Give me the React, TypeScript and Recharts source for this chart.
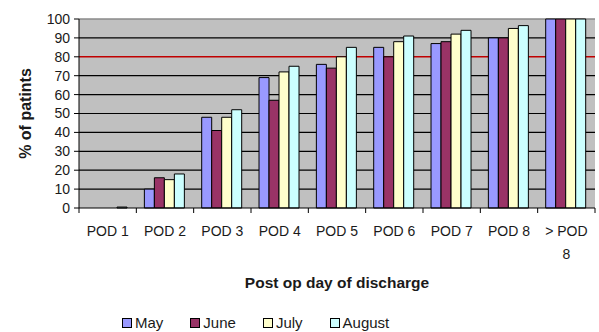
import React from 'react';
import { BarChart, Bar, XAxis, YAxis, CartesianGrid, Legend } from 'recharts';

// Share of patients discharged by each post-operative day, per month
const CATEGORIES = ['POD 1', 'POD 2', 'POD 3', 'POD 4', 'POD 5', 'POD 6', 'POD 7', 'POD 8', '> POD 8'];
const MAY = [0, 10, 48, 69, 76, 85, 87, 90, 100];
const JUNE = [0, 16, 41, 57, 74, 80, 88, 90, 100];
const JULY = [0, 15, 48, 72, 80, 88, 92, 95, 100];
const AUGUST = [0.5, 18, 52, 75, 85, 91, 94, 96.5, 100];
const Y_TICKS = [0, 10, 20, 30, 40, 50, 60, 70, 80, 90, 100];
const TARGET = 80;
const TOP = 100;

const SERIES = [
  { key: 'May', values: MAY, color: '#9999ff' },
  { key: 'June', values: JUNE, color: '#993366' },
  { key: 'July', values: JULY, color: '#ffffcc' },
  { key: 'August', values: AUGUST, color: '#ccffff' },
];

const rows = CATEGORIES.map((name, i) => {
  const row: Record<string, string | number> = { name };
  SERIES.forEach((s) => {
    row[s.key] = s.values[i];
  });
  return row;
});

const GRID_VALUES = Y_TICKS.filter((v) => v !== TARGET && v !== TOP && v !== 0);

const WIDTH = 599;
const HEIGHT = 332;
const MARGIN = { top: 19, right: 4, bottom: 64, left: 0 };
const Y_AXIS_WIDTH = 79;
const FONT = '"Liberation Sans", Arial, sans-serif';
const PLOT_WIDTH = WIDTH - MARGIN.left - MARGIN.right - Y_AXIS_WIDTH;
const HALF_STEP = PLOT_WIDTH / CATEGORIES.length / 2;

// Category label with tick marks on the category boundaries
const CategoryTick = (props: any) => {
  const { x, y, payload, index } = props;
  const words = String(payload.value).startsWith('>') ? ['> POD', '8'] : [payload.value];
  const last = index === CATEGORIES.length - 1;
  return (
    <g>
      <line x1={x - HALF_STEP} y1={y} x2={x - HALF_STEP} y2={y + 5} stroke="#000" />
      {last && <line x1={x + HALF_STEP} y1={y} x2={x + HALF_STEP} y2={y + 5} stroke="#000" />}
      <text x={x} y={y + 28} textAnchor="middle" fontSize={14} fontFamily={FONT} fill="#1a1a1a">
        {words.map((w: string, i: number) => (
          <tspan key={i} x={x} dy={i === 0 ? 0 : 23}>
            {w}
          </tspan>
        ))}
      </text>
    </g>
  );
};

const LegendContent = () => (
  <div style={{ display: 'flex', gap: 27, fontFamily: FONT, fontSize: 15, color: '#1a1a1a', alignItems: 'center' }}>
    {SERIES.map((s) => (
      <div key={s.key} style={{ display: 'flex', alignItems: 'center' }}>
        <span
          style={{
            display: 'inline-block',
            width: 8,
            height: 8,
            background: s.color,
            border: '1px solid #000',
            marginRight: 3,
          }}
        />
        <span>{s.key}</span>
      </div>
    ))}
  </div>
);

export default function App() {
  return (
    <div style={{ position: 'absolute', left: 0, top: 0, width: WIDTH, height: HEIGHT, background: '#fff' }}>
      <BarChart
        width={WIDTH}
        height={HEIGHT}
        data={rows}
        margin={MARGIN}
        barCategoryGap="14%"
        barGap={0}
      >
        <CartesianGrid
          vertical={false}
          horizontalValues={GRID_VALUES}
          stroke="#000"
          strokeWidth={1.2}
          fill="#c0c0c0"
        />
        <CartesianGrid vertical={false} horizontalValues={[TOP]} stroke="#8a8a8a" strokeWidth={1.5} />
        <CartesianGrid vertical={false} horizontalValues={[TARGET]} stroke="#c00000" strokeWidth={1.5} />
        <XAxis
          dataKey="name"
          interval={0}
          tickLine={false}
          tickSize={0}
          tickMargin={0}
          axisLine={{ stroke: '#000' }}
          height={60}
          tick={<CategoryTick />}
          label={{
            value: 'Post op day of discharge',
            position: 'bottom',
            offset: 9,
            fontSize: 15.5,
            fontWeight: 'bold',
            fontFamily: FONT,
            fill: '#1a1a1a',
          }}
        />
        <YAxis
          width={Y_AXIS_WIDTH}
          domain={[0, 100]}
          ticks={Y_TICKS}
          interval={0}
          tickSize={5}
          tickMargin={4}
          axisLine={{ stroke: '#000' }}
          tickLine={{ stroke: '#000' }}
          tick={{ fontSize: 14, fontFamily: FONT, fill: '#1a1a1a' }}
          label={{
            value: '% of patints',
            angle: -90,
            position: 'center',
            dx: -14,
            fontSize: 16,
            fontWeight: 'bold',
            fontFamily: FONT,
            fill: '#1a1a1a',
          }}
        />
        {SERIES.map((s) => (
          <Bar
            key={s.key}
            dataKey={s.key}
            fill={s.color}
            stroke="#000"
            strokeWidth={1}
            isAnimationActive={false}
          />
        ))}
        <Legend
          layout="horizontal"
          verticalAlign="middle"
          align="center"
          content={<LegendContent />}
          wrapperStyle={{ top: 314, left: 122, width: 320 }}
        />
      </BarChart>
    </div>
  );
}
